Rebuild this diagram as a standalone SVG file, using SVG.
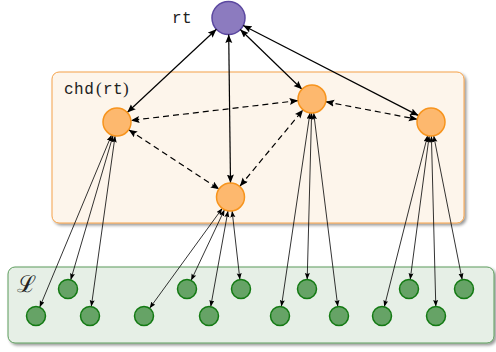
<svg xmlns="http://www.w3.org/2000/svg" width="496" height="352" viewBox="0 0 496 352">
<defs>
<filter id="sh" x="-5%" y="-5%" width="110%" height="115%">
<feDropShadow dx="2" dy="2" stdDeviation="1.5" flood-color="#000" flood-opacity="0.4"/>
</filter>
<marker id="ah" markerUnits="userSpaceOnUse" markerWidth="10" markerHeight="8" refX="8.5" refY="3.5" orient="auto-start-reverse">
<path d="M0,0 L8.5,3.5 L0,7 L1.5,3.5 z" fill="#000"/>
</marker>
<marker id="as" markerUnits="userSpaceOnUse" markerWidth="8" markerHeight="6" refX="6.5" refY="2.5" orient="auto-start-reverse">
<path d="M0,0 L6.5,2.5 L0,5 L1,2.5 z" fill="#000"/>
</marker>
</defs>
<style>
.main{stroke:#000;stroke-width:1.2;fill:none;marker-start:url(#ah);marker-end:url(#ah)}
.dash{stroke:#000;stroke-width:1.2;fill:none;stroke-dasharray:6,4;marker-start:url(#ah);marker-end:url(#ah)}
.leaf{stroke:#000;stroke-width:0.8;fill:none;marker-start:url(#as);marker-end:url(#as)}
.inner{fill:#fdb86e;stroke:#f7941d;stroke-width:1.5}
.lf{fill:#66a366;stroke:#137a13;stroke-width:1.5}
.mono{font-family:"Liberation Mono",monospace;font-size:16px;letter-spacing:0.5px;fill:#222}
.ser{font-family:"Liberation Serif",serif;font-size:17px;fill:#222}
</style>

<g id="chd-box">
<rect x="52" y="72" width="412" height="151" rx="7" fill="#fdf5eb" stroke="#f5a24a" stroke-width="1" filter="url(#sh)"/>
<text x="64" y="94" class="mono">chd</text>
<text x="96" y="94" class="ser">(</text>
<text x="103" y="94" class="mono">rt</text>
<text x="123" y="94" class="ser">)</text>
</g>

<g id="leaf-box">
<rect x="8" y="267" width="486" height="76" rx="7" fill="#e6efe6" stroke="#5d9c5d" stroke-width="1" filter="url(#sh)"/>
<text x="17" y="292" font-family="DejaVu Serif, serif" font-size="23" fill="#222">ℒ</text>
</g>

<g id="rt">
<circle cx="228.5" cy="18" r="16.5" fill="#8c7bbf" stroke="#5b48a0" stroke-width="1.5"/>
<text x="172" y="23" class="mono">rt</text>
</g>

<g id="connectors">
<line class="main" x1="216.4" y1="29.3" x2="127.2" y2="112.5"/>
<line class="main" x1="228.7" y1="34.5" x2="230.5" y2="183"/>
<line class="main" x1="240.3" y1="29.5" x2="302" y2="89.3"/>
<line class="main" x1="243.2" y1="25.5" x2="418.5" y2="115.6"/>
<line class="dash" x1="298.1" y1="100.6" x2="130.9" y2="120.4"/>
<line class="dash" x1="128.7" y1="129.7" x2="219.3" y2="189.3"/>
<line class="dash" x1="239.9" y1="186.2" x2="303.1" y2="109.8"/>
<line class="dash" x1="325.7" y1="101.7" x2="417.3" y2="119.3"/>

<line class="leaf" x1="111.6" y1="134.9" x2="39.7" y2="307.2"/>
<line class="leaf" x1="113.1" y1="135.4" x2="70.7" y2="279.9"/>
<line class="leaf" x1="115.1" y1="135.9" x2="91.3" y2="306.6"/>

<line class="leaf" x1="222.3" y1="208.3" x2="149.6" y2="308.3"/>
<line class="leaf" x1="224.5" y1="209.7" x2="191.1" y2="280.4"/>
<line class="leaf" x1="228" y1="210.8" x2="210.7" y2="306.7"/>
<line class="leaf" x1="232.1" y1="210.9" x2="239.9" y2="279.6"/>

<line class="leaf" x1="310" y1="112.8" x2="281.4" y2="306.6"/>
<line class="leaf" x1="311.6" y1="113" x2="307.2" y2="279.5"/>
<line class="leaf" x1="313.7" y1="112.9" x2="337.8" y2="306.6"/>

<line class="leaf" x1="427.6" y1="135.6" x2="384.3" y2="306.8"/>
<line class="leaf" x1="429.2" y1="135.9" x2="410.2" y2="279.6"/>
<line class="leaf" x1="431.4" y1="136" x2="435.8" y2="306.5"/>
<line class="leaf" x1="433.7" y1="135.7" x2="462.2" y2="279.7"/>
</g>

<g id="child-a"><circle class="inner" cx="117" cy="122" r="14"/></g>
<g id="child-b"><circle class="inner" cx="230.5" cy="197" r="14"/></g>
<g id="child-c"><circle class="inner" cx="312" cy="99" r="14"/></g>
<g id="child-d"><circle class="inner" cx="431" cy="122" r="14"/></g>

<g id="leaf-1"><circle class="lf" cx="36" cy="316" r="9.5"/></g>
<g id="leaf-2"><circle class="lf" cx="68" cy="289" r="9.5"/></g>
<g id="leaf-3"><circle class="lf" cx="90" cy="316" r="9.5"/></g>
<g id="leaf-4"><circle class="lf" cx="144" cy="316" r="9.5"/></g>
<g id="leaf-5"><circle class="lf" cx="187" cy="289" r="9.5"/></g>
<g id="leaf-6"><circle class="lf" cx="209" cy="316" r="9.5"/></g>
<g id="leaf-7"><circle class="lf" cx="241" cy="289" r="9.5"/></g>
<g id="leaf-8"><circle class="lf" cx="280" cy="316" r="9.5"/></g>
<g id="leaf-9"><circle class="lf" cx="307" cy="289" r="9.5"/></g>
<g id="leaf-10"><circle class="lf" cx="339" cy="316" r="9.5"/></g>
<g id="leaf-11"><circle class="lf" cx="382" cy="316" r="9.5"/></g>
<g id="leaf-12"><circle class="lf" cx="409" cy="289" r="9.5"/></g>
<g id="leaf-13"><circle class="lf" cx="436" cy="316" r="9.5"/></g>
<g id="leaf-14"><circle class="lf" cx="464" cy="289" r="9.5"/></g>
</svg>
